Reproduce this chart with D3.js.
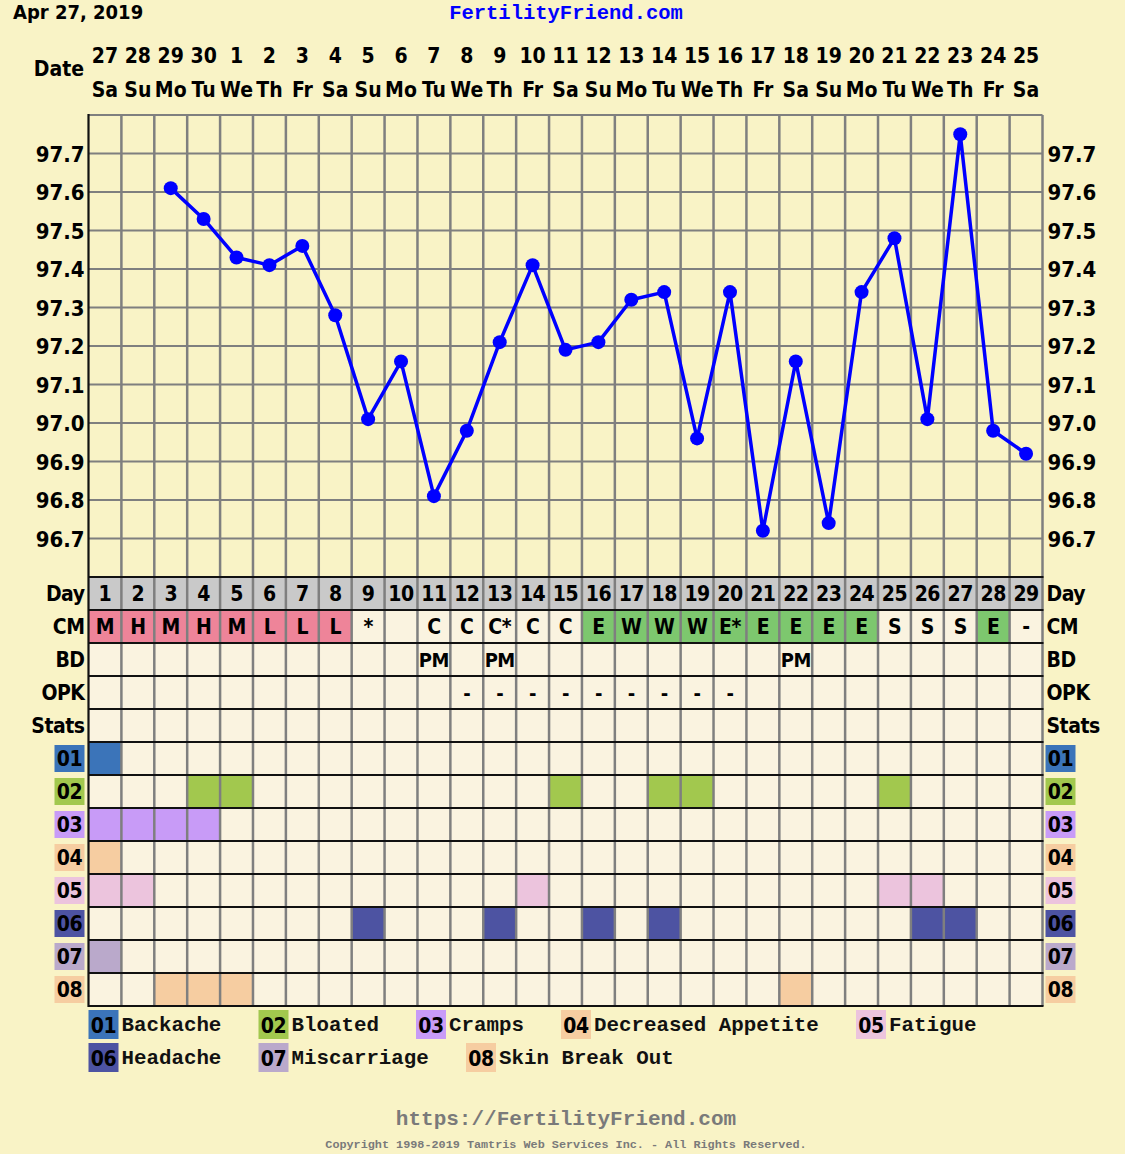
<!DOCTYPE html>
<html>
<head>
<meta charset="utf-8">
<script src="https://cdn.jsdelivr.net/npm/d3@7"></script>
<style>
  html, body { margin: 0; padding: 0; background: #f9f3c6; }
  svg { display: block; }
  .lbl { font-family: "DejaVu Sans Condensed", "DejaVu Sans", sans-serif; font-weight: bold; fill: #000; }
  .mono { font-family: "Liberation Mono", "DejaVu Sans Mono", monospace; font-weight: bold; }
</style>
</head>
<body>
<div id="chart"></div>
<script>
// Chart data.
const chartDate = "Apr 27, 2019";
const dates = ["27","28","29","30","1","2","3","4","5","6","7","8","9","10","11","12","13","14","15","16","17","18","19","20","21","22","23","24","25"];
const weekdays = ["Sa","Su","Mo","Tu","We","Th","Fr","Sa","Su","Mo","Tu","We","Th","Fr","Sa","Su","Mo","Tu","We","Th","Fr","Sa","Su","Mo","Tu","We","Th","Fr","Sa"];
const cycleDays = d3.range(1, 30);
// Temperatures per cycle day (null = not recorded).
const temps = [null, null, 97.61, 97.53, 97.43, 97.41, 97.46, 97.28, 97.01, 97.16, 96.81, 96.98, 97.21, 97.41, 97.19,
               97.21, 97.32, 97.34, 96.96, 97.34, 96.72, 97.16, 96.74, 97.34, 97.48, 97.01, 97.75, 96.98, 96.92];
const tempTicks = [96.7, 96.8, 96.9, 97.0, 97.1, 97.2, 97.3, 97.4, 97.5, 97.6, 97.7];

// Cervical mucus row: letter and colour type.
const cm = ["M","H","M","H","M","L","L","L","*","","C","C","C*","C","C","E","W","W","W","E*","E","E","E","E","S","S","S","E","-"];
const cmType = ["p","p","p","p","p","p","p","p","","","","","","","","g","g","g","g","g","g","g","g","g","","","","g",""];
const bd = ["","","","","","","","","","","PM","","PM","","","","","","","","","PM","","","","","","",""];
const opk = ["","","","","","","","","","","","-","-","-","-","-","-","-","-","-","","","","","","","","",""];

// Symptom codes, names, colours and days they occurred.
const symCodes = ["01","02","03","04","05","06","07","08"];
const symNames = ["Backache","Bloated","Cramps","Decreased Appetite","Fatigue","Headache","Miscarriage","Skin Break Out"];
const symColors = ["#3b74b9","#a2c84e","#c89bf7","#f6cda1","#ecc4dd","#4d53a2","#baa9cb","#f6cda1"];
const symDays = [[1], [4,5,15,18,19,25], [1,2,3,4], [1], [1,2,14,25,26], [9,13,16,18,26,27], [1], [3,4,5,22]];

const rowNames = ["Day","CM","BD","OPK","Stats"].concat(symCodes);

// Layout.
const width = 1125, height = 1154;
const plotLeft = 88.5, plotRight = 1042.5, plotTop = 115, chartBottom = 577, tableBottom = 1006;
const cellBg = "#faf3e0", gridGray = "#7f7f7f";

const svg = d3.select("#chart").append("svg")
    .attr("width", width).attr("height", height);

const x = d3.scaleLinear().domain([0.5, 29.5]).range([plotLeft, plotRight]);
const colW = x(1.5) - x(0.5);
const y = d3.scaleLinear().domain([96.6, 97.8]).range([chartBottom, plotTop]);
const row = d3.scaleBand().domain(rowNames).range([chartBottom, tableBottom]);

// Title, site name.
svg.append("text").attr("class", "lbl")
    .attr("x", 13).attr("y", 19).style("font-size", "20px")
    .text(chartDate);
svg.append("text").attr("class", "mono")
    .attr("x", 566).attr("y", 19).attr("text-anchor", "middle")
    .style("font-size", "20.5px").style("fill", "#0000ff")
    .text("FertilityFriend.com");

// Date header.
svg.append("text").attr("class", "lbl")
    .attr("x", 84).attr("y", 76).attr("text-anchor", "end")
    .style("font-size", "21px").text("Date");
svg.append("g").selectAll("text")
    .data(cycleDays)
    .join("text")
        .attr("class", "lbl")
        .attr("x", d => x(d)).attr("y", 63)
        .attr("text-anchor", "middle").style("font-size", "21px")
        .text(d => dates[d - 1]);
svg.append("g").selectAll("text")
    .data(cycleDays)
    .join("text")
        .attr("class", "lbl")
        .attr("x", d => x(d)).attr("y", 97)
        .attr("text-anchor", "middle").style("font-size", "21px")
        .text(d => weekdays[d - 1]);

// Table cell backgrounds.
const cells = svg.append("g");
rowNames.forEach(r => {
    cells.append("g").selectAll("rect")
        .data(cycleDays)
        .join("rect")
            .attr("x", d => x(d - 0.5)).attr("y", row(r))
            .attr("width", colW).attr("height", row.bandwidth())
            .attr("fill", d => {
                if (r === "Day") return "#c9c9c9";
                if (r === "CM") return cmType[d - 1] === "p" ? "#ee8499" : cmType[d - 1] === "g" ? "#7dc76e" : cellBg;
                const k = symCodes.indexOf(r);
                if (k >= 0 && symDays[k].includes(d)) return symColors[k];
                return cellBg;
            });
});

// Chart grid.
const grid = svg.append("g");
grid.append("g").selectAll("line")
    .data(tempTicks.concat([97.8]))
    .join("line")
        .attr("x1", plotLeft).attr("x2", plotRight)
        .attr("y1", d => y(d)).attr("y2", d => y(d))
        .style("stroke", gridGray).style("stroke-width", 2);
grid.append("g").selectAll("line")
    .data(d3.range(1, 30))
    .join("line")
        .attr("x1", d => x(d + 0.5)).attr("x2", d => x(d + 0.5))
        .attr("y1", plotTop).attr("y2", tableBottom)
        .style("stroke", gridGray).style("stroke-width", 2.5);
grid.append("g").selectAll("line")
    .data(d3.range(rowNames.length + 1))
    .join("line")
        .attr("x1", plotLeft).attr("x2", plotRight + 1)
        .attr("y1", i => chartBottom + i * row.bandwidth())
        .attr("y2", i => chartBottom + i * row.bandwidth())
        .style("stroke", "#111").style("stroke-width", 2.2);
grid.append("line")
    .attr("x1", plotLeft).attr("x2", plotLeft).attr("y1", plotTop - 1).attr("y2", tableBottom + 1)
    .style("stroke", "#111").style("stroke-width", 2.2);

// Temperature axes.
const yLeft = svg.append("g")
    .attr("transform", "translate(" + (plotLeft - 4) + ",0)")
    .call(d3.axisLeft(y).tickValues(tempTicks).tickFormat(d3.format(".1f")).tickSize(0).tickPadding(0));
const yRight = svg.append("g")
    .attr("transform", "translate(" + (plotRight + 5) + ",0)")
    .call(d3.axisRight(y).tickValues(tempTicks).tickFormat(d3.format(".1f")).tickSize(0).tickPadding(0));
[yLeft, yRight].forEach(a => {
    a.select(".domain").remove();
    a.selectAll("text").attr("class", "lbl").style("font-size", "22px").attr("dy", "0.36em");
});

// Temperature line and points.
const pts = cycleDays.filter(d => temps[d - 1] !== null);
svg.append("path")
    .datum(pts)
    .attr("d", d3.line().x(d => x(d)).y(d => y(temps[d - 1])))
    .style("fill", "none").style("stroke", "#0000ff").style("stroke-width", 3.5)
    .style("stroke-linejoin", "round");
svg.append("g").selectAll("circle")
    .data(pts)
    .join("circle")
        .attr("cx", d => x(d)).attr("cy", d => y(temps[d - 1]))
        .attr("r", 7).style("fill", "#0000ff");

// Row labels, both sides.
const textRows = ["Day","CM","BD","OPK","Stats"];
[[plotLeft - 4, "end"], [plotRight + 4, "start"]].forEach(([lx, anchor]) => {
    svg.append("g").selectAll("text")
        .data(textRows)
        .join("text")
            .attr("class", "lbl")
            .attr("x", lx).attr("y", r => row(r) + row.bandwidth() / 2)
            .attr("dy", "0.36em").attr("text-anchor", anchor)
            .style("font-size", "21px").style("letter-spacing", "-0.5px")
            .text(r => r);
});

// Symptom code labels with coloured boxes, both sides.
[plotLeft - 34, plotRight + 3].forEach(bx => {
    const g = svg.append("g").selectAll("g")
        .data(symCodes)
        .join("g")
            .attr("transform", r => "translate(" + bx + "," + (row(r) + 3) + ")");
    g.append("rect")
        .attr("width", 30).attr("height", row.bandwidth() - 6)
        .attr("fill", (r, i) => symColors[i]);
    g.append("text").attr("class", "lbl")
        .attr("x", 15).attr("y", (row.bandwidth() - 6) / 2).attr("dy", "0.36em")
        .attr("text-anchor", "middle").style("font-size", "21px").style("letter-spacing", "-0.5px")
        .text(r => r);
});

// Cell texts.
function rowText(r, values, size) {
    svg.append("g").selectAll("text")
        .data(cycleDays)
        .join("text")
            .attr("class", "lbl")
            .attr("x", d => x(d)).attr("y", row(r) + row.bandwidth() / 2)
            .attr("dy", "0.36em").attr("text-anchor", "middle")
            .style("font-size", size).style("letter-spacing", "-0.5px")
            .text(d => values[d - 1]);
}
rowText("Day", cycleDays.map(String), "21px");
rowText("CM", cm, "21px");
rowText("BD", bd, "20px");
rowText("OPK", opk, "20px");

// Symptom legend, flowed left to right.
const legend = svg.append("g");
let lx = plotLeft, ly = 1010;
const charW = 12.5, gap = 37;
symCodes.forEach((c, i) => {
    const w = 33 + symNames[i].length * charW;
    if (lx + w > plotRight) { lx = plotLeft; ly += 33; }
    const g = legend.append("g").attr("transform", "translate(" + lx + "," + ly + ")");
    g.append("rect").attr("width", 30).attr("height", 29).attr("fill", symColors[i]);
    g.append("text").attr("class", "lbl")
        .attr("x", 15).attr("y", 23).attr("text-anchor", "middle")
        .style("font-size", "21px").style("letter-spacing", "-0.5px").text(c);
    g.append("text").attr("class", "mono")
        .attr("x", 33).attr("y", 21).style("font-size", "20.8px").style("fill", "#111")
        .text(symNames[i]);
    lx += w + gap;
});

// Footer.
svg.append("text").attr("class", "mono")
    .attr("x", 566).attr("y", 1125).attr("text-anchor", "middle")
    .style("font-size", "21px").style("fill", "#7a7a7a")
    .text("https://FertilityFriend.com");
svg.append("text").attr("class", "mono")
    .attr("x", 566).attr("y", 1148).attr("text-anchor", "middle")
    .style("font-size", "11.8px").style("fill", "#7a7a7a")
    .text("Copyright 1998-2019 Tamtris Web Services Inc. - All Rights Reserved.");
</script>
</body>
</html>
